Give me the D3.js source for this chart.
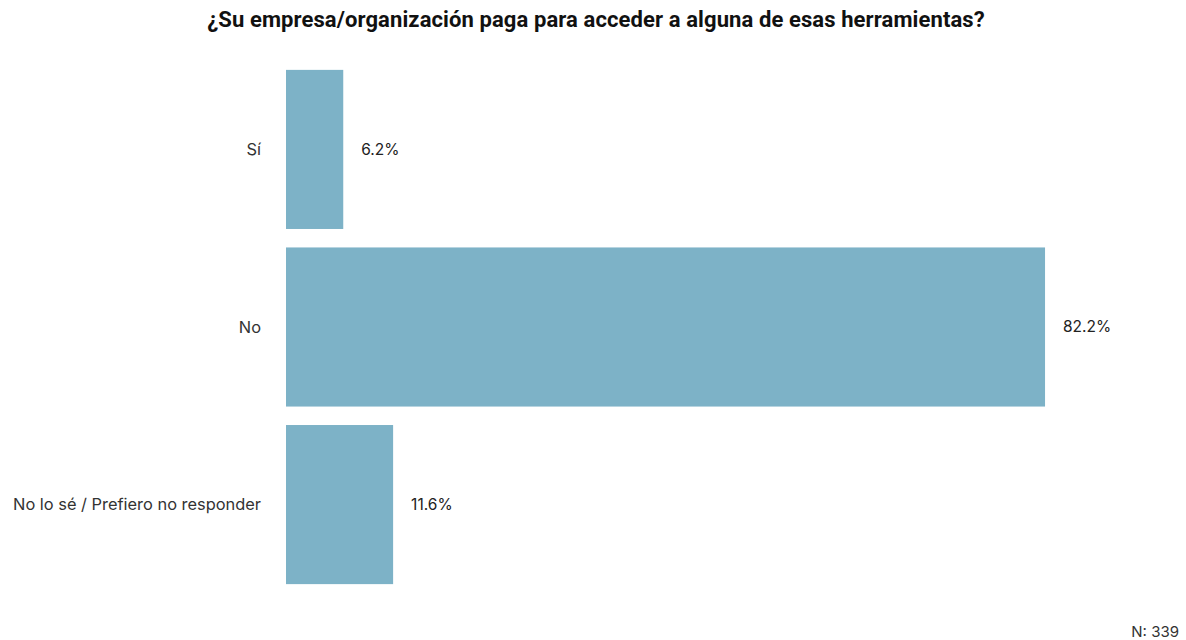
<!DOCTYPE html>
<html>
<head>
<meta charset="utf-8">
<script src="https://cdn.jsdelivr.net/npm/d3@7"></script>
<style>
  body { margin: 0; background: #fff; }
  text { font-family: Inter, "Noto Sans", sans-serif; }
</style>
</head>
<body>
<svg id="chart"></svg>
<script>
// data
var categories = ["Sí", "No", "No lo sé / Prefiero no responder"];
var values = [6.2, 82.2, 11.6];
var title = "¿Su empresa/organización paga para acceder a alguna de esas herramientas?";
var note = "N: 339";

var W = 1186, H = 640;
var svg = d3.select("#chart").attr("width", W).attr("height", H);

// scales
var x = d3.scaleLinear().domain([0, 100]).range([286, 286 + 923.4]);
var y = d3.scaleBand().domain(categories).range([61, 593]).paddingInner(0.104).paddingOuter(0.05);

// title
svg.append("text")
  .attr("x", 596).attr("y", 27)
  .attr("text-anchor", "middle")
  .style("font-family", "Roboto, sans-serif")
  .style("font-weight", "bold")
  .style("font-size", "22px")
  .style("letter-spacing", "0.1px")
  .attr("fill", "#111")
  .text(title);

// bars
svg.selectAll("rect.bar").data(values).enter().append("rect")
  .attr("class", "bar")
  .attr("x", x(0))
  .attr("y", function(d, i){ return y(categories[i]); })
  .attr("width", function(d){ return x(d) - x(0); })
  .attr("height", y.bandwidth())
  .attr("fill", "#7db2c7");

// category labels
svg.selectAll("text.cat").data(categories).enter().append("text")
  .attr("class", "cat")
  .attr("x", 261)
  .attr("y", function(d){ return y(d) + y.bandwidth()/2; })
  .attr("dy", "0.35em")
  .attr("text-anchor", "end")
  .style("font-size", "16.4px")
  .attr("fill", "#333")
  .text(function(d){ return d; });

// value labels
svg.selectAll("text.val").data(values).enter().append("text")
  .attr("class", "val")
  .attr("x", function(d){ return x(d) + 18; })
  .attr("y", function(d, i){ return y(categories[i]) + y.bandwidth()/2; })
  .attr("dy", "0.35em")
  .style("font-size", "15.5px")
  .attr("fill", "#222")
  .text(function(d){ return d.toFixed(1) + "%"; });

// note
svg.append("text")
  .attr("x", 1179).attr("y", 637)
  .attr("text-anchor", "end")
  .style("font-size", "15px")
  .attr("fill", "#333")
  .text(note);
</script>
</body>
</html>
